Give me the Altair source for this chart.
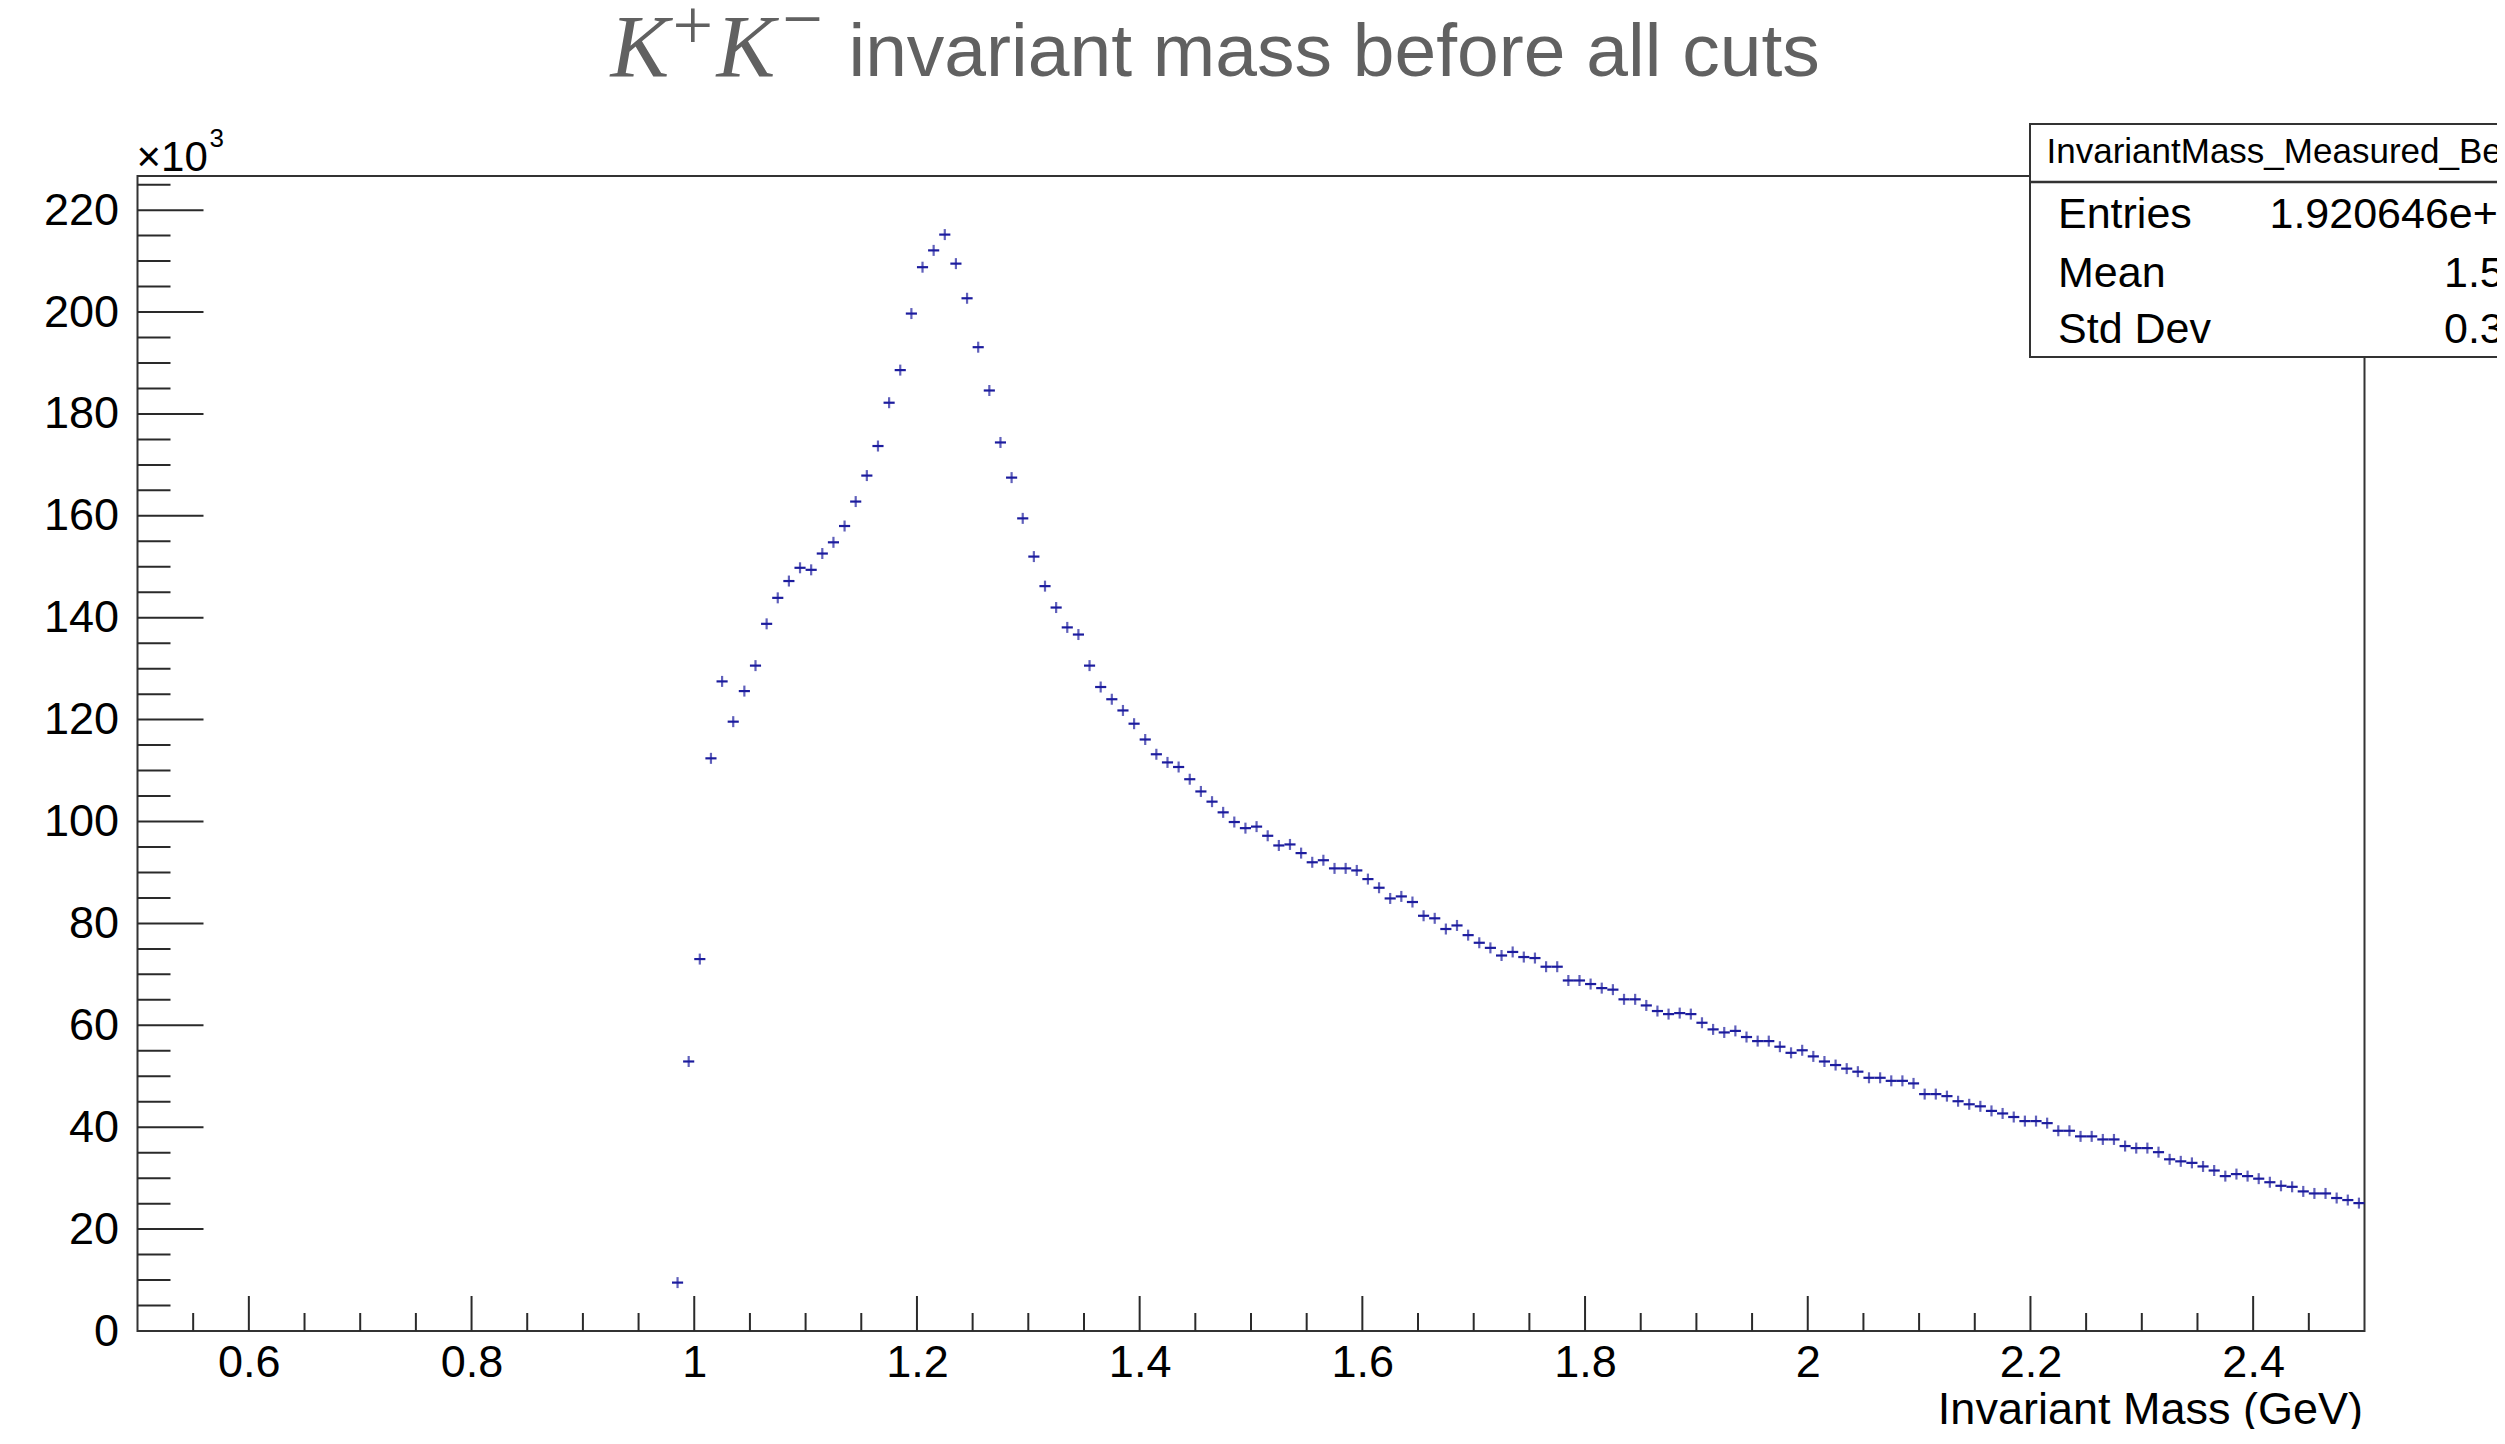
import altair as alt
import pandas as pd

# ---------------- data (counts in units of 10^3) ----------------
BIN_WIDTH = 0.01
FIRST_BIN_CENTER = 0.985
COUNTS_K = [
    9.5, 52.9,
    73.0, 112.4, 127.5, 119.6, 125.6, 130.6, 138.8, 143.9, 147.2, 149.8,
    149.4, 152.6, 154.8, 158.0, 162.8, 167.9, 173.7, 182.2, 188.6, 199.7,
    208.8, 212.1, 215.2, 209.5, 202.7, 193.1, 184.6, 174.4, 167.5, 159.5,
    152.0, 146.2, 142.0, 138.1, 136.7, 130.6, 126.4, 124.0, 121.8, 119.2,
    116.1, 113.2, 111.6, 110.7, 108.3, 105.9, 103.9, 101.8, 99.9, 98.7,
    99.0, 97.2, 95.3, 95.5, 93.8, 92.0, 92.4, 90.8, 90.8, 90.4,
    88.7, 87.0, 84.9, 85.3, 84.2, 81.5, 81.0, 78.9, 79.6, 77.7,
    76.2, 75.2, 73.7, 74.4, 73.4, 73.2, 71.5, 71.5, 68.8, 68.8,
    68.1, 67.3, 67.0, 65.1, 65.1, 63.9, 62.8, 62.2, 62.4, 62.2,
    60.5, 59.2, 58.6, 58.9, 57.7, 56.9, 56.9, 55.8, 54.6, 55.1,
    53.9, 52.9, 52.2, 51.5, 50.9, 49.7, 49.7, 49.1, 49.1, 48.6,
    46.5, 46.5, 46.1, 45.1, 44.5, 44.1, 43.2, 42.7, 42.0, 41.2,
    41.2, 40.8, 39.3, 39.3, 38.2, 38.2, 37.6, 37.6, 36.3, 35.9,
    35.9, 35.1, 33.7, 33.3, 33.0, 32.3, 31.5, 30.4, 30.8, 30.4,
    29.9, 29.2, 28.5, 28.3, 27.4, 27.0, 27.0, 26.1, 25.7, 25.1,
]

X_LABELS = [0.6, 0.8, 1.0, 1.2, 1.4, 1.6, 1.8, 2.0, 2.2, 2.4]
X_MINOR = [0.55, 0.65, 0.7, 0.75, 0.85, 0.9, 0.95, 1.05, 1.1, 1.15, 1.25, 1.3,
           1.35, 1.45, 1.5, 1.55, 1.65, 1.7, 1.75, 1.85, 1.9, 1.95, 2.05, 2.1,
           2.15, 2.25, 2.3, 2.35, 2.45]
Y_LABELS = [0, 20, 40, 60, 80, 100, 120, 140, 160, 180, 200, 220]
Y_MAJOR = [20, 40, 60, 80, 100, 120, 140, 160, 180, 200, 220]
Y_MINOR = [5, 10, 15, 25, 30, 35, 45, 50, 55, 65, 70, 75, 85, 90, 95, 105, 110,
           115, 125, 130, 135, 145, 150, 155, 165, 170, 175, 185, 190, 195, 205,
           210, 215, 225]

STATS_NAME = "InvariantMass_Measured_Be"
STATS_ROWS = ["Entries", "Mean", "Std Dev"]
STATS_VALS = ["1.920646e+", "1.5", "0.3"]

centers = [round(FIRST_BIN_CENTER + BIN_WIDTH * i, 3) for i in range(len(COUNTS_K))]
df = pd.DataFrame({
    "c": centers,
    "lo": [round(c - BIN_WIDTH / 2, 3) for c in centers],
    "hi": [round(c + BIN_WIDTH / 2, 3) for c in centers],
    "v": COUNTS_K,
})

# ---------------- layout ----------------
W, H = 2227, 1155
FONT = "Liberation Sans"
SERIF = "Liberation Serif"
TITLE_GRAY = "#616161"
PT = "#1c1c9e"
AX = "#2a2a2a"

xscale = alt.Scale(domain=[0.5, 2.5], nice=False, zero=False)
yscale = alt.Scale(domain=[0, 226.7], nice=False, zero=False)

XAXIS = alt.Axis(values=X_LABELS, format="~g", labelFontSize=45,
                 labelFont=FONT, labelColor="#000", ticks=False,
                 tickSize=0, domain=False, grid=False, labelPadding=9,
                 labelFlush=False, title=None)
YAXIS = alt.Axis(values=Y_LABELS, format="d", labelFontSize=45,
                 labelFont=FONT, labelColor="#000", ticks=False,
                 tickSize=0, domain=False, grid=False, labelPadding=19,
                 labelFlush=False, title=None)

one = pd.DataFrame({"k": [0]})

hbars = alt.Chart(df).mark_rule(color=PT, strokeWidth=2.2).encode(
    x=alt.X("lo:Q", scale=xscale, axis=XAXIS, title=None),
    x2="hi:Q",
    y=alt.Y("v:Q", scale=yscale, axis=YAXIS, title=None),
)
vbars = alt.Chart(df).mark_tick(color=PT, orient="vertical", size=11, thickness=2.2).encode(
    x=alt.X("c:Q", scale=xscale, axis=XAXIS, title=None),
    y=alt.Y("v:Q", scale=yscale, axis=YAXIS, title=None),
)

def yticks(vals, length):
    return alt.Chart(pd.DataFrame({"t": vals})).mark_rule(color=AX, strokeWidth=2).encode(
        y=alt.Y("t:Q", scale=yscale, axis=YAXIS, title=None),
        x=alt.value(0), x2=alt.value(length),
    )

def xticks(vals, length):
    return alt.Chart(pd.DataFrame({"t": vals})).mark_rule(color=AX, strokeWidth=2).encode(
        x=alt.X("t:Q", scale=xscale, axis=XAXIS, title=None),
        y=alt.value(H), y2=alt.value(H - length),
    )

def txt(s, x, y, size, font=FONT, color="#000", align="left", style="normal"):
    return alt.Chart(one).mark_text(
        text=s, font=font, fontSize=size, color=color, align=align,
        baseline="alphabetic", fontStyle=style,
    ).encode(x=alt.value(x), y=alt.value(y))

# title pieces
title_layers = [
    txt("K", 473, -100.3, 88, SERIF, TITLE_GRAY, style="italic"),
    txt("+", 535, -126.8, 72, SERIF, TITLE_GRAY),
    txt("K", 579, -100.3, 88, SERIF, TITLE_GRAY, style="italic"),
    txt("\u2212", 644.7, -133, 72, SERIF, TITLE_GRAY),
    txt("invariant mass before all cuts", 711, -100.3, 75, FONT, TITLE_GRAY),
]

# x10^3 and x title
misc_layers = [
    txt("\u00d710", -1, -5.3, 42),
    txt("3", 72, -29.3, 26),
    txt("Invariant Mass (GeV)", 2225.5, 1248, 45, align="right"),
]

# stats box
box = alt.Chart(one).mark_rect(fill="white", stroke="#333", strokeWidth=2).encode(
    x=alt.value(1892.5), x2=alt.value(2600), y=alt.value(-52), y2=alt.value(181)
)
sep = alt.Chart(one).mark_rule(color="#333", strokeWidth=2.5).encode(
    x=alt.value(1892.5), x2=alt.value(2600), y=alt.value(6)
)
stats_layers = [box, sep, txt(STATS_NAME, 1909, -13, 35)]
row_base = [52.3, 110.7, 167.3]
val_x = [2132, 2306.5, 2306.5]
for name, val, yb, vx in zip(STATS_ROWS, STATS_VALS, row_base, val_x):
    stats_layers.append(txt(name, 1920.5, yb, 43))
    stats_layers.append(txt(val, vx, yb, 43))

chart = alt.layer(
    hbars, vbars,
    yticks(Y_MAJOR, 66), yticks(Y_MINOR, 33),
    xticks(X_LABELS, 35), xticks(X_MINOR, 18),
    *title_layers, *misc_layers, *stats_layers,
).properties(
    width=W, height=H,
    autosize=alt.AutoSizeParams(type="none"),
    padding={"left": 129.5, "top": 168, "right": 132, "bottom": 98},
    background="white",
).configure_view(
    stroke="#333", strokeWidth=2
)

chart.save("out.html", embed_options={"renderer": "svg", "actions": False})
